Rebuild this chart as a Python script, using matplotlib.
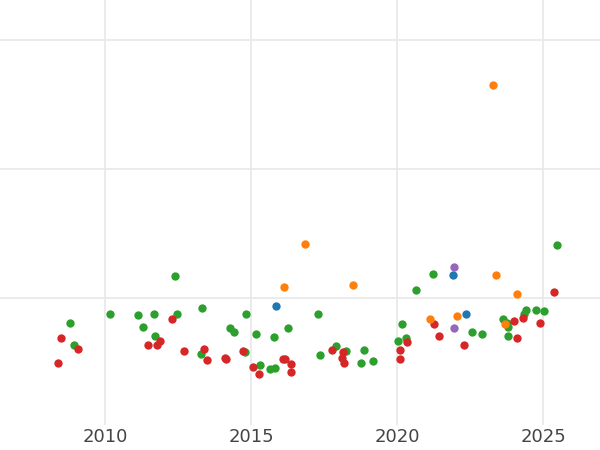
import matplotlib
matplotlib.use("Agg")
import matplotlib.pyplot as plt

red_x = [2008.39,2008.49,2009.07,2011.47,2011.78,2011.88,2012.29,2012.70,2013.39,2013.49,2014.11,2014.14,2014.72,2015.07,2015.27,2016.09,2016.16,2016.37,2016.37,2017.77,2018.15,2018.11,2018.18,2020.10,2020.10,2020.34,2021.26,2021.43,2022.29,2024.00,2024.11,2024.31,2024.90,2025.38]
red_y = [0.50,0.69,0.61,0.64,0.64,0.67,0.84,0.59,0.61,0.52,0.54,0.53,0.59,0.47,0.41,0.53,0.53,0.49,0.43,0.60,0.58,0.54,0.50,0.60,0.53,0.66,0.80,0.71,0.64,0.82,0.69,0.85,0.81,1.05]
orange_x = [2016.85,2016.13,2018.49,2023.28,2021.13,2022.05,2023.39,2024.11,2023.70]
orange_y = [1.42,1.09,1.10,2.65,0.84,0.86,1.18,1.03,0.80]
blue_x = [2015.85,2021.91,2022.36]
blue_y = [0.94,1.18,0.88]
purple_x = [2021.95,2021.95]
purple_y = [1.24,0.77]
green_x = [2008.80,2008.93,2010.17,2011.13,2011.30,2011.67,2011.71,2012.39,2012.46,2013.32,2013.29,2014.28,2014.41,2014.83,2014.79,2015.17,2015.30,2015.65,2015.82,2015.78,2016.27,2017.29,2017.36,2017.91,2018.25,2018.87,2018.76,2019.17,2020.03,2020.17,2020.30,2020.65,2021.23,2022.57,2022.91,2023.63,2023.76,2023.80,2023.80,2024.35,2024.41,2024.76,2025.03,2025.48]
green_y = [0.81,0.64,0.88,0.87,0.78,0.88,0.71,1.17,0.88,0.92,0.57,0.77,0.74,0.88,0.58,0.72,0.48,0.45,0.46,0.70,0.77,0.88,0.56,0.63,0.59,0.60,0.50,0.51,0.67,0.80,0.69,1.06,1.19,0.74,0.72,0.84,0.81,0.78,0.71,0.88,0.91,0.91,0.90,1.41]
xticks = [2010, 2015, 2020, 2025]

fig = plt.figure(figsize=(6, 4.5), dpi=100)
ax = fig.add_axes([0, 0.055, 1, 0.945])
ax.set_xlim(2006.4, 2026.95)
ax.set_ylim(0.0155, 3.31)
ax.set_xticks(xticks)
ax.set_xticklabels([str(t) for t in xticks], fontsize=13, color="#444444")
ax.set_yticks([1, 2, 3])
ax.set_yticklabels([])
ax.tick_params(length=0, pad=2)
ax.grid(True, color="#e8e8e8", linewidth=1.2)
ax.set_axisbelow(True)
for s in ax.spines.values():
    s.set_visible(False)
kw = dict(s=36, linewidths=0, zorder=3)
ax.scatter(green_x, green_y, color="#2ca02c", **kw)
ax.scatter(red_x, red_y, color="#d62728", **kw)
ax.scatter(orange_x, orange_y, color="#ff7f0e", **kw)
ax.scatter(blue_x, blue_y, color="#1f77b4", **kw)
ax.scatter(purple_x, purple_y, color="#9467bd", **kw)
fig.savefig("out.png", dpi=100)
